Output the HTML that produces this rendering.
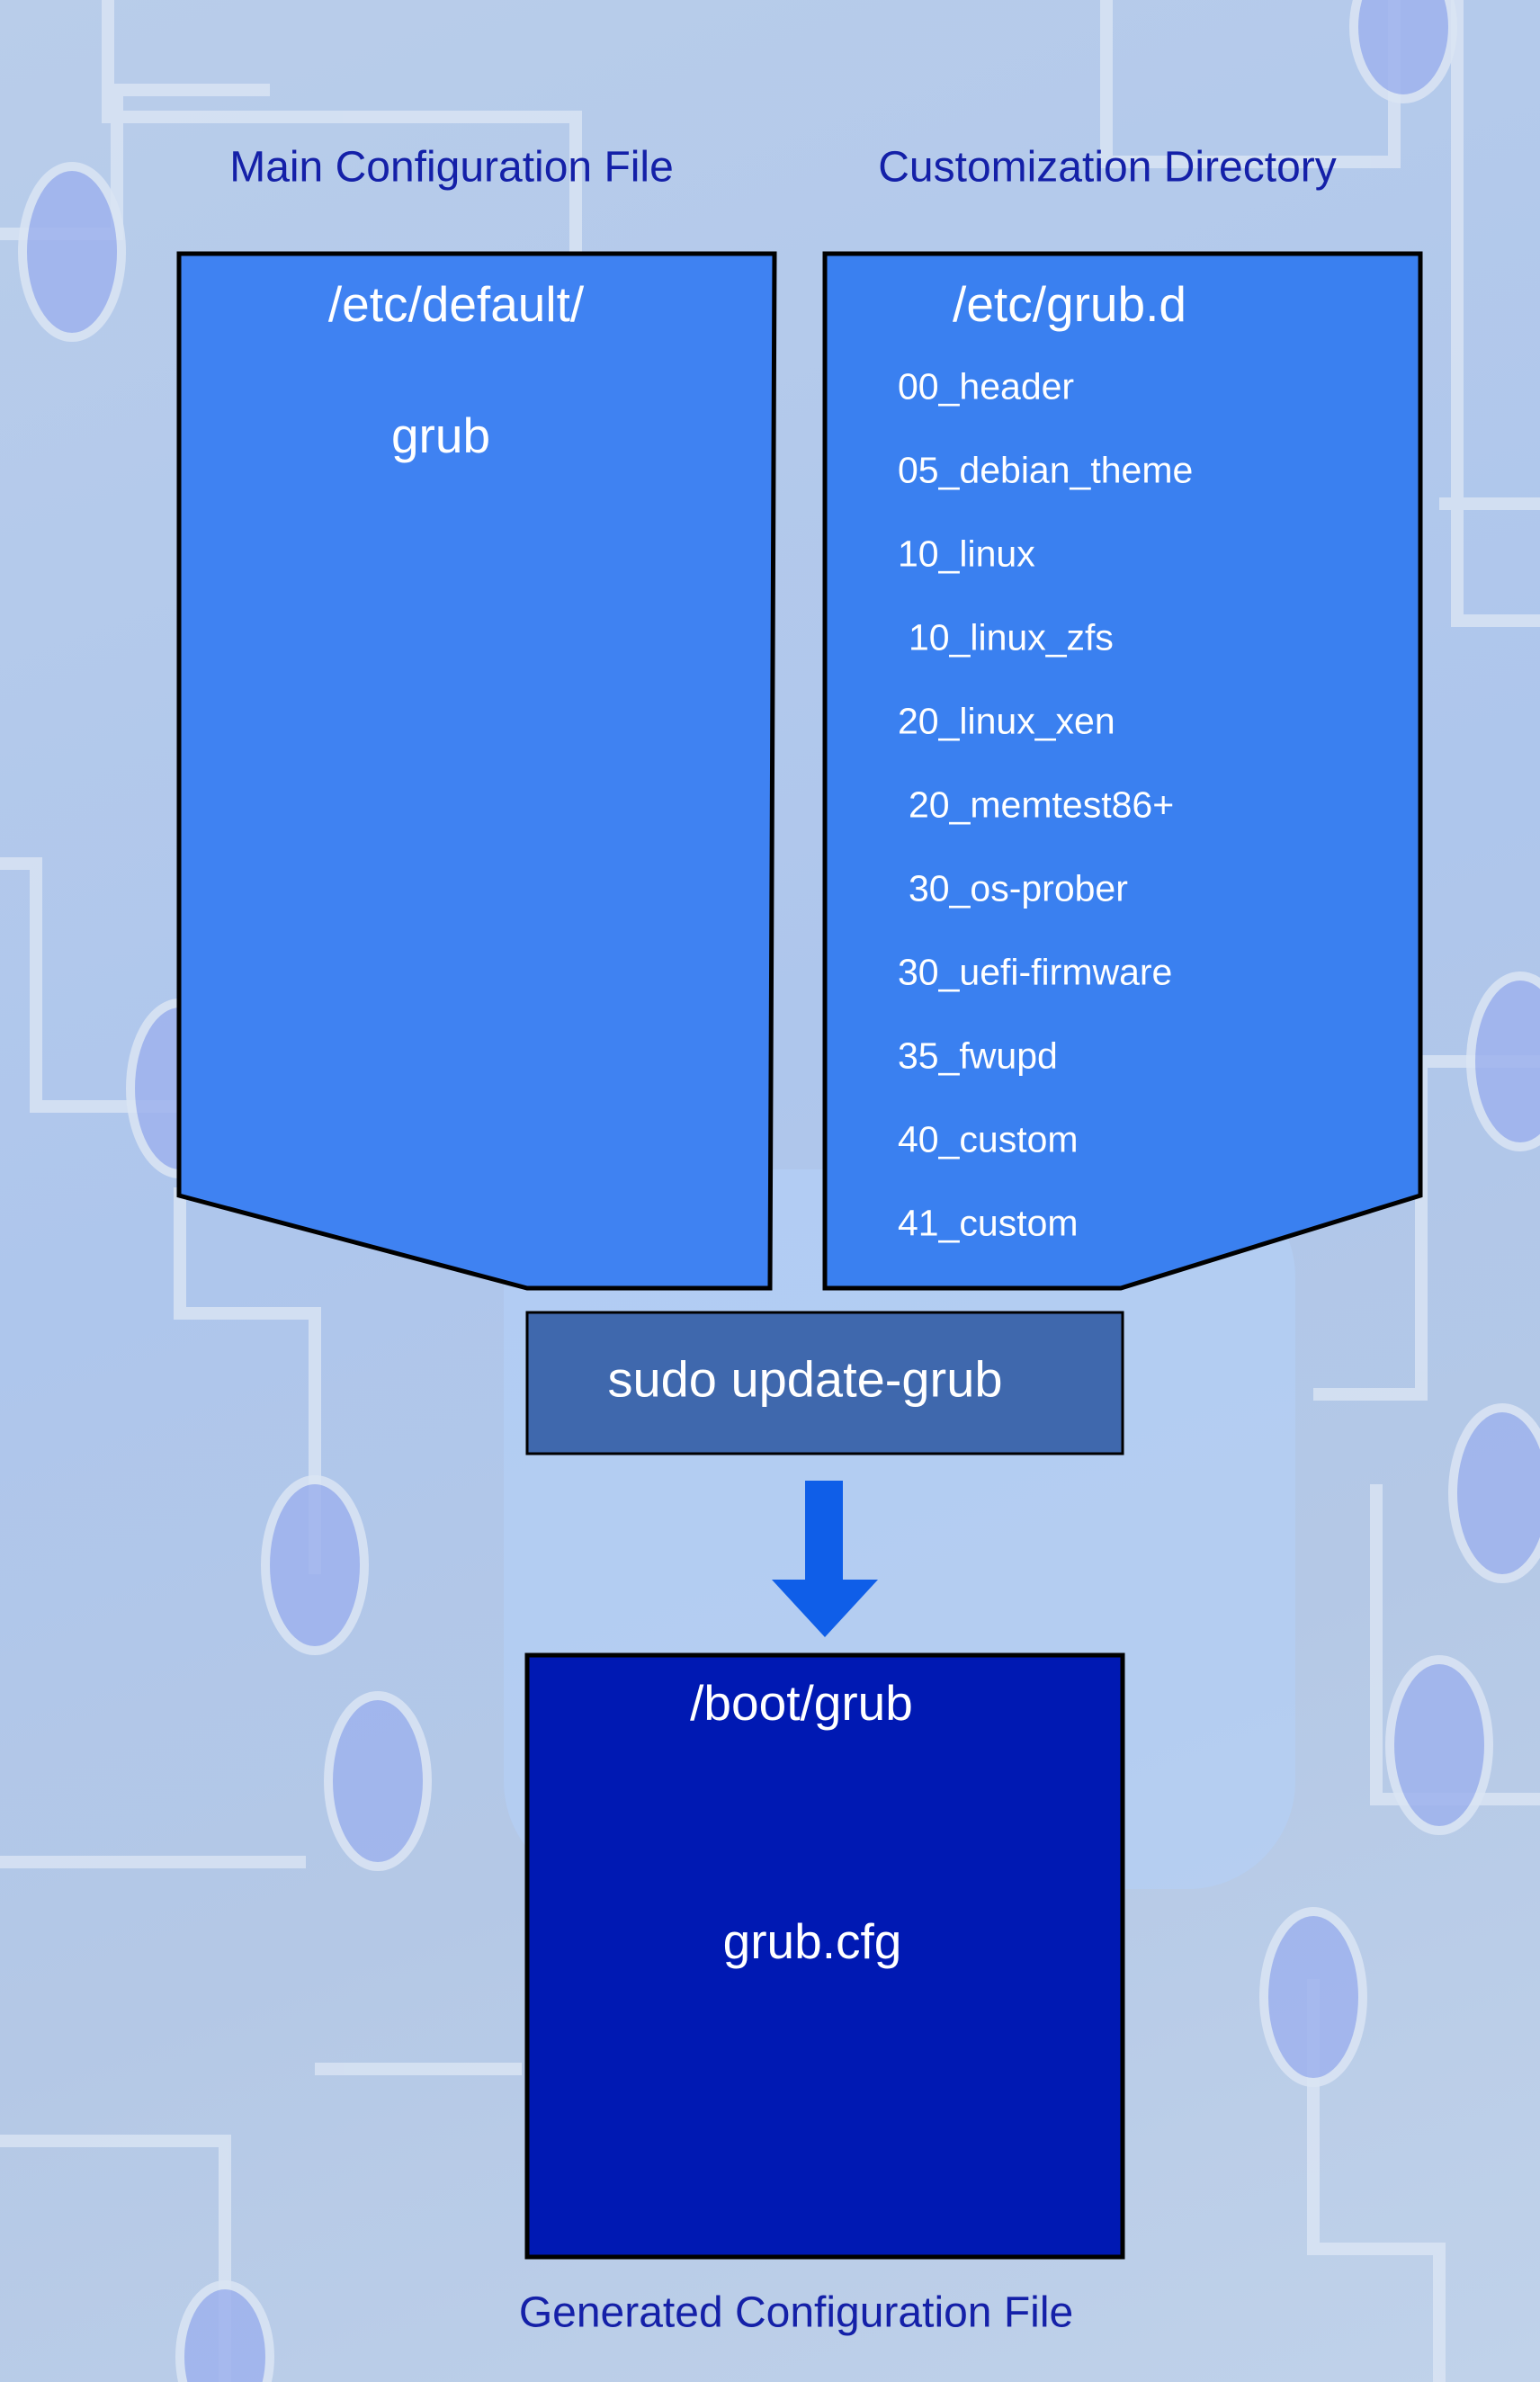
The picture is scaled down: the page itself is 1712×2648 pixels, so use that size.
<!DOCTYPE html>
<html><head><meta charset="utf-8"><style>
html,body{margin:0;padding:0}
body{width:1712px;height:2648px;position:relative;overflow:hidden;background:linear-gradient(160deg,#b9cdea 0%,#aec6ec 45%,#b4c8e6 70%,#c0d2ea 100%);font-family:"Liberation Sans",sans-serif}
.t{position:absolute;white-space:nowrap;transform:translate(-50%,-50%)}
.w{color:#fff}
.lab{color:#1420a8;font-size:48px}
.li{position:absolute;color:#fff;font-size:41px;transform:translateY(-50%)}
</style></head><body>
<svg width="1712" height="2648" style="position:absolute;left:0;top:0">
<rect x="560" y="1300" width="880" height="800" rx="120" fill="#b4d0f8" opacity="0.6"/>
<g fill="none" stroke="#dbe5f4" stroke-width="14" opacity="0.8">
<path d="M0 260 H130 V100 H300"/><path d="M120 0 V130 H640 V280"/><path d="M0 960 H40 V1230 H200"/><path d="M200 1320 V1460 H350 V1750"/><path d="M0 2380 H250 V2648"/><path d="M1230 0 V180 H1550 V0"/><path d="M1600 560 H1712"/><path d="M1712 1180 H1580 V1550 H1460"/><path d="M1530 1650 V2000 H1712"/><path d="M1460 2200 V2500 H1600 V2648"/><path d="M1620 0 V690 H1712"/><path d="M350 2300 H580"/><path d="M0 2070 H340"/>
</g>
<g fill="#9fb3ee" stroke="#dbe5f4" stroke-width="10" opacity="0.85">
<ellipse cx="80" cy="280" rx="55" ry="95"/><ellipse cx="200" cy="1210" rx="55" ry="95"/><ellipse cx="350" cy="1740" rx="55" ry="95"/><ellipse cx="420" cy="1980" rx="55" ry="95"/><ellipse cx="1560" cy="30" rx="55" ry="80"/><ellipse cx="1690" cy="1180" rx="55" ry="95"/><ellipse cx="1670" cy="1660" rx="55" ry="95"/><ellipse cx="1600" cy="1940" rx="55" ry="95"/><ellipse cx="1460" cy="2220" rx="55" ry="95"/><ellipse cx="250" cy="2620" rx="50" ry="80"/>
</g>
<polygon points="199,282 861,282 856,1432 586,1432 199,1329" fill="#3f82f2" stroke="#000" stroke-width="5"/>
<polygon points="917,282 1579,282 1579,1329 1246,1432 917,1432" fill="#3a80f0" stroke="#000" stroke-width="5"/>
<rect x="586" y="1459" width="662" height="157" fill="#3f68ad" stroke="#000" stroke-width="3"/>
<polygon points="895,1646 937,1646 937,1756 976,1756 917,1820 858,1756 895,1756" fill="#0f5ee8"/>
<rect x="586" y="1840" width="662" height="669" fill="#0019b3" stroke="#000" stroke-width="5"/>
</svg>
<div class="t lab" style="left:502px;top:186px">Main Configuration File</div>
<div class="t lab" style="left:1231px;top:186px">Customization Directory</div>
<div class="t w" style="left:507px;top:338px;font-size:55px">/etc/default/</div>
<div class="t w" style="left:490px;top:484px;font-size:55px">grub</div>
<div class="t w" style="left:1189px;top:338px;font-size:55px">/etc/grub.d</div>
<div class="li" style="left:998px;top:430px">00_header</div>
<div class="li" style="left:998px;top:523px">05_debian_theme</div>
<div class="li" style="left:998px;top:616px">10_linux</div>
<div class="li" style="left:1010px;top:709px">10_linux_zfs</div>
<div class="li" style="left:998px;top:802px">20_linux_xen</div>
<div class="li" style="left:1010px;top:895px">20_memtest86+</div>
<div class="li" style="left:1010px;top:988px">30_os-prober</div>
<div class="li" style="left:998px;top:1081px">30_uefi-firmware</div>
<div class="li" style="left:998px;top:1174px">35_fwupd</div>
<div class="li" style="left:998px;top:1267px">40_custom</div>
<div class="li" style="left:998px;top:1360px">41_custom</div>
<div class="t w" style="left:895px;top:1533px;font-size:56px">sudo update-grub</div>
<div class="t w" style="left:891px;top:1893px;font-size:55px">/boot/grub</div>
<div class="t w" style="left:903px;top:2158px;font-size:55px">grub.cfg</div>
<div class="t lab" style="left:885px;top:2571px">Generated Configuration File</div>
</body></html>
